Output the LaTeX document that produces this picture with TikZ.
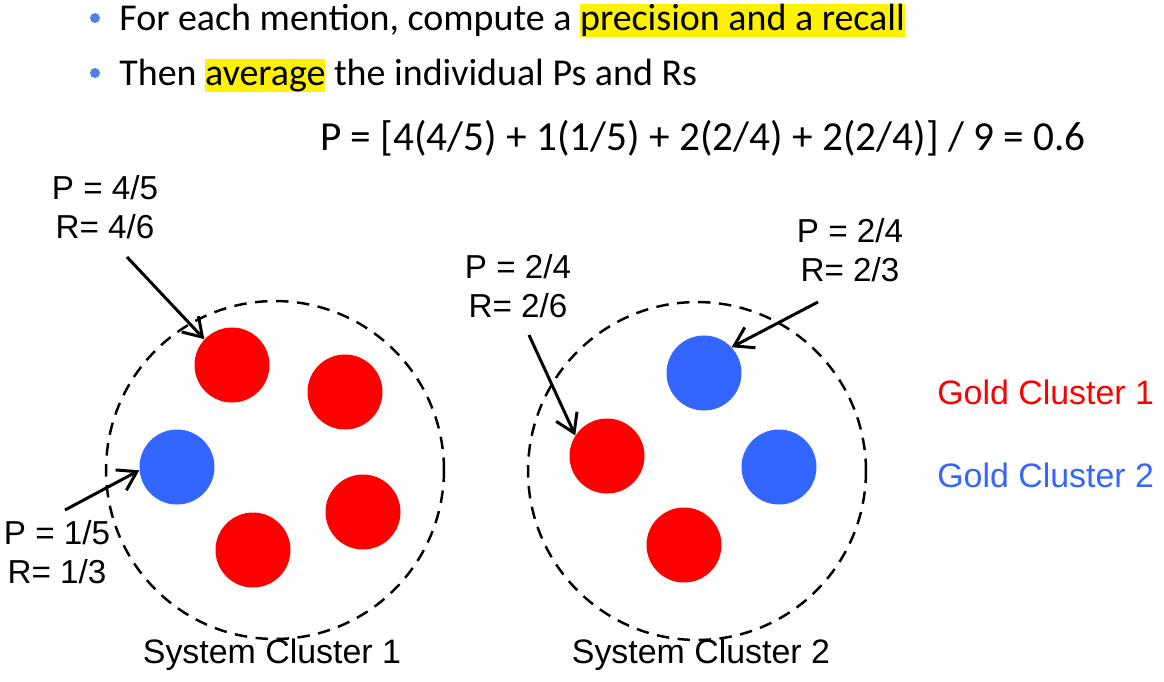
\documentclass[tikz,border=0pt]{standalone}
\usepackage{fontspec}
\setmainfont{Liberation Sans}
\newfontfamily\calibfont{Carlito}
\usetikzlibrary{arrows.meta}
\definecolor{goldred}{RGB}{255,0,0}
\definecolor{goldblue}{RGB}{51,102,255}
\definecolor{bulletblue}{RGB}{79,129,230}
\definecolor{hlyellow}{RGB}{255,242,0}
\newcommand{\hlite}[1]{{\setlength{\fboxsep}{0pt}\colorbox{hlyellow}{\rule[-3.8pt]{0pt}{18.6pt}#1}}}

\begin{document}
\begin{tikzpicture}[x=0.02cm, y=-0.02cm,
  every node/.style={inner sep=0pt, font=\fontsize{19.3}{22.5}\selectfont},
  mention/.style={circle, minimum size=1.5cm, fill=#1},
  syscluster/.style={circle, draw, dashed, dash pattern=on 0.25cm off 0.17cm,
    line width=1.4pt, minimum size=6.76cm},
  score/.style={align=center, font=\fontsize{18.9}{22.3}\selectfont},
  bullettext/.style={anchor=base west, font=\calibfont\fontsize{21.6}{25}\selectfont},
  pointer/.style={-{Straight Barb[length=0.36cm, width=0.46cm, line width=1.7pt]}, line width=1.7pt}]
\useasboundingbox (0,0) rectangle (1164,681);

% bullets
\fill[bulletblue] (95,18) circle (0.1cm);
\fill[bulletblue] (95,73) circle (0.1cm);
\node[bullettext] (line1) at (119,30) {For each mention, compute a \hlite{precision and a recall}};
\node[bullettext] (line2) at (119,85) {Then \hlite{average} the individual Ps and Rs};
\node[anchor=base, font=\calibfont\fontsize{23.5}{28}\selectfont] (formula) at (703,150)
  {P = [4(4/5) + 1(1/5) + 2(2/4) + 2(2/4)] / 9 = 0.6};

% system clusters
\node[syscluster] (sys1) at (275,470) {};
\node[syscluster] (sys2) at (697,471) {};
\node (sys1label) at (272,655) {System Cluster 1};
\node (sys2label) at (701,655) {System Cluster 2};

% mentions
\node[mention=goldred]  (m1) at (232,365) {};
\node[mention=goldred]  (m2) at (345,392) {};
\node[mention=goldblue] (m3) at (177,467) {};
\node[mention=goldred]  (m4) at (363,512) {};
\node[mention=goldred]  (m5) at (253,550) {};
\node[mention=goldblue] (n1) at (704,373) {};
\node[mention=goldblue] (n2) at (779,467) {};
\node[mention=goldred]  (n3) at (607,456) {};
\node[mention=goldred]  (n4) at (684,545) {};

% legend
\node[anchor=west, text=goldred]  (gold1) at (937,392) {Gold Cluster 1};
\node[anchor=west, text=goldblue] (gold2) at (937,475) {Gold Cluster 2};

% scores
\node[score] (s1) at (105,207) {P = 4/5\\R= 4/6};
\node[score] (s2) at (57,552) {P = 1/5\\R= 1/3};
\node[score] (s3) at (518,286) {P = 2/4\\R= 2/6};
\node[score] (s4) at (850,250) {P = 2/4\\R= 2/3};

\coordinate (t1) at (127,257);
\coordinate (t2) at (65,510);
\coordinate (t3) at (529,335);
\coordinate (t4) at (818,302);
\draw[pointer] (t1) -- (m1.137);
\draw[pointer] (t2) -- (m3.185);
\draw[pointer] (t3) -- (n3.147);
\draw[pointer] (t4) -- (n1.43);
\end{tikzpicture}
\end{document}
